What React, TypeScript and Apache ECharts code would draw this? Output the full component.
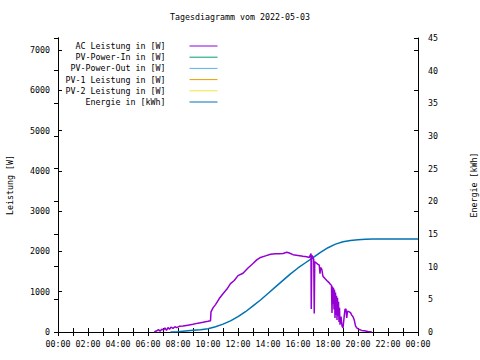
import React, { useEffect, useRef } from "react";
import * as echarts from "echarts";

const titleText = "Tagesdiagramm vom 2022-05-03";
const seriesNames = [
  "AC Leistung in [W]",
  "PV-Power-In in [W]",
  "PV-Power-Out in [W]",
  "PV-1 Leistung in [W]",
  "PV-2 Leistung in [W]",
  "Energie in [kWh]",
];
const seriesColors = ["#9400d3", "#009e73", "#56b4e9", "#e69f00", "#f0e442", "#0072b2"];

const acTimes = [
  "06:25", "06:35", "06:42", "06:48", "06:55", "07:02", "07:08", "07:14", "07:20", "07:26",
  "07:32", "07:40", "07:48", "07:55", "08:05", "08:20", "08:40", "09:00", "09:20", "09:40",
  "10:00", "10:10", "10:12", "10:20", "10:30", "10:45", "11:00", "11:15", "11:30", "11:45",
  "12:00", "12:20", "12:40", "13:00", "13:15", "13:30", "13:50", "14:10", "14:30", "14:45",
  "15:00", "15:15", "15:25", "15:40", "16:00", "16:20", "16:35", "16:45", "16:52", "16:53",
  "16:55", "16:58", "17:03", "17:05", "17:07", "17:12", "17:20", "17:25", "17:28", "17:30",
  "17:35", "17:40", "17:45", "17:55", "18:00", "18:05", "18:10", "18:14", "18:16", "18:18",
  "18:20", "18:22", "18:24", "18:26", "18:28", "18:30", "18:32", "18:34", "18:36", "18:38",
  "18:40", "18:42", "18:44", "18:46", "18:48", "18:52", "18:56", "19:00", "19:05", "19:08",
  "19:12", "19:15", "19:18", "19:25", "19:30", "19:35", "19:40", "19:45", "19:50", "19:55",
  "20:05", "20:15", "20:25", "20:40", "20:55",
];
const acWatts = [
  0, 30, 60, 20, 70, 50, 100, 40, 110, 70,
  120, 90, 130, 110, 140, 150, 170, 190, 220, 240,
  265, 280, 500, 600, 680, 830, 950, 1060, 1200, 1280,
  1400, 1460, 1590, 1700, 1790, 1850, 1890, 1930, 1940, 1945,
  1950, 1980, 1960, 1920, 1900, 1880, 1870, 1850, 1950, 570,
  1900, 1880, 1800, 460, 1740, 1720, 1680, 1660, 1450, 1600,
  1560, 1380, 1350, 1280, 1250, 1220, 1180, 1160, 470, 1130,
  700, 1100, 560, 1050, 350, 980, 420, 900, 300, 850,
  400, 750, 250, 600, 180, 380, 150, 100, 400, 560,
  570, 350, 520, 500, 480, 420, 380, 300, 150, 100,
  60, 40, 30, 10, 0,
];

const energyTimes = [
  "07:30", "08:00", "08:30", "09:00", "09:30", "10:00", "10:30", "11:00", "11:30", "12:00",
  "12:30", "13:00", "13:30", "14:00", "14:30", "15:00", "15:30", "16:00", "16:30", "17:00",
  "17:30", "18:00", "18:30", "19:00", "19:30", "20:00", "20:30", "21:00", "24:00",
];
const energyKWh = [
  0, 0.05, 0.15, 0.25, 0.35, 0.5, 0.8, 1.2, 1.7, 2.35,
  3.1, 4.0, 4.9, 5.9, 6.9, 7.9, 8.9, 9.8, 10.6, 11.4,
  12.2, 12.9, 13.45, 13.8, 14.0, 14.12, 14.2, 14.24, 14.24,
];

const toHours = (t: string) => {
  const [h, m] = t.split(":").map(Number);
  return h + m / 60;
};

const FONT = "DejaVu Sans Mono";
const FS = 8.3;

export default function App() {
  const ref = useRef<HTMLDivElement>(null);
  useEffect(() => {
    if (!ref.current) return;
    const chart = echarts.init(ref.current, undefined, { renderer: "svg" });
    const acData = acTimes.map((t, i) => [toHours(t), acWatts[i]]);
    const enData = energyTimes.map((t, i) => [toHours(t), energyKWh[i]]);
    const txt = { fontFamily: FONT, fontSize: FS, color: "#000" };
    const tick = { inside: true, length: 4, lineStyle: { color: "#000", width: 1 } };
    const line = { show: true, lineStyle: { color: "#000", width: 1 } };
    const series: any[] = seriesNames.map((name, i) => ({
      name,
      type: "line",
      data: i === 0 ? acData : i === 5 ? enData : [],
      yAxisIndex: i === 5 ? 1 : 0,
      xAxisIndex: 0,
      symbol: "none",
      showSymbol: false,
      color: seriesColors[i],
      lineStyle: { width: 1.5, color: seriesColors[i] },
      z: i === 0 ? 3 : 2,
    }));
    chart.setOption({
      animation: false,
      backgroundColor: "#fff",
      title: {
        text: titleText,
        left: "center",
        top: 8,
        textStyle: { ...txt, fontWeight: "normal" },
      },
      legend: {
        orient: "vertical",
        right: 262,
        top: 42,
        padding: 0,
        align: "right",
        itemWidth: 28,
        itemHeight: 10,
        itemGap: 3.2,
        data: seriesNames,
        lineStyle: { width: 1 },
        itemStyle: { opacity: 0 },
        textStyle: { ...txt, padding: [0, 19, 0, 0] },
      },
      grid: {
        left: 58,
        right: 62,
        top: 38,
        bottom: 28,
        containLabel: false,
        outerBoundsMode: "none",
      },
      xAxis: [
        {
          type: "value",
          min: 0,
          max: 24,
          interval: 1,
          position: "bottom",
          axisLine: line,
          axisTick: tick,
          splitLine: { show: false },
          axisLabel: {
            ...txt,
            margin: 8,
            formatter: (v: number) =>
              v % 2 === 0 ? String(v % 24).padStart(2, "0") + ":00" : "",
          },
        },
        {
          type: "value",
          min: 0,
          max: 24,
          interval: 1,
          position: "top",
          axisLine: line,
          axisTick: tick,
          splitLine: { show: false },
          axisLabel: { show: false },
        },
      ],
      yAxis: [
        {
          type: "value",
          min: 0,
          max: 7300,
          interval: 1000,
          position: "left",
          name: "Leistung [W]",
          nameLocation: "middle",
          nameRotate: 90,
          nameGap: 44,
          nameTextStyle: txt,
          axisLine: line,
          axisTick: tick,
          splitLine: { show: false },
          axisLabel: { ...txt, margin: 8, showMaxLabel: false, formatter: (v: number) => String(v) },
        },
        {
          type: "value",
          min: 0,
          max: 45,
          interval: 5,
          position: "right",
          name: "Energie [kWh]",
          nameLocation: "middle",
          nameRotate: 90,
          nameGap: 52,
          nameTextStyle: txt,
          axisLine: line,
          axisTick: tick,
          splitLine: { show: false },
          axisLabel: { ...txt, margin: 10, formatter: (v: number) => String(v) },
        },
        {
          type: "value",
          min: 0,
          max: 7300,
          interval: 1000,
          position: "right",
          axisLine: line,
          axisTick: tick,
          splitLine: { show: false },
          axisLabel: { show: false },
        },
      ],
      series,
    });
    return () => chart.dispose();
  }, []);
  return <div ref={ref} style={{ width: 480, height: 360, position: "absolute", left: 0, top: 0 }} />;
}
